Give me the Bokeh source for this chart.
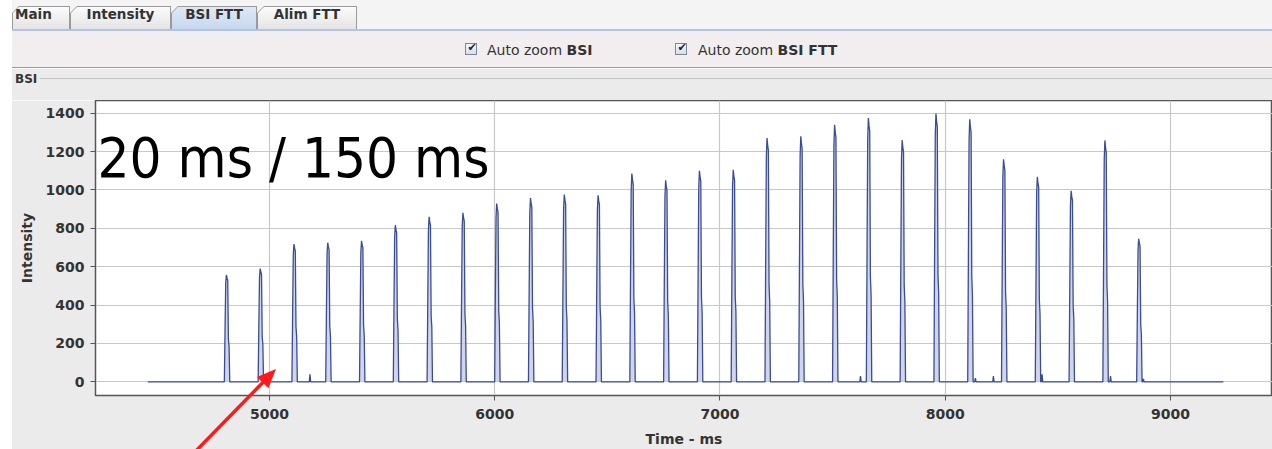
from bokeh.plotting import figure
from bokeh.models import Range1d, FixedTicker, Label, Div
from bokeh.layouts import column
from bokeh.embed import file_html
from bokeh.resources import INLINE

# ---------------- data ----------------
TAB_LABELS = ["Main", "Intensity", "BSI FTT", "Alim FTT"]
SELECTED_TAB = "BSI FTT"
CHECK_PLAIN = ["Auto zoom ", "Auto zoom "]
CHECK_BOLD = ["BSI", "BSI FTT"]
PANEL_TITLE = "BSI"
ANNOTATION = "20 ms / 150 ms"
X_LABEL = "Time - ms"
Y_LABEL = "Intensity"
X_TICKS = [5000, 6000, 7000, 8000, 9000]
Y_TICKS = [0, 200, 400, 600, 800, 1000, 1200, 1400]

PEAK_START_MS = [4800, 4950, 5100, 5250, 5400, 5550, 5700, 5850, 6000, 6150,
                 6300, 6450, 6600, 6750, 6900, 7050, 7200, 7350, 7500, 7650,
                 7800, 7950, 8100, 8250, 8400, 8550, 8700, 8850]
PEAK_HEIGHTS = [557, 590, 718, 725, 735, 817, 860, 881, 929, 958,
                976, 972, 1085, 1050, 1100, 1105, 1270, 1280, 1340, 1375,
                1260, 1398, 1368, 1160, 1068, 995, 1258, 745]
PULSE_OFFSET_MS = [0, 3, 6, 9, 12, 15, 18, 21, 24]
PULSE_FRACTION = [0, 0.48, 0.92, 1.0, 0.97, 0.95, 0.40, 0.33, 0]
BLIP_MS = [5180, 7624, 8134, 8214, 8430, 8734, 8880]
BLIP_HEIGHTS = [40, 30, 20, 30, 40, 30, 15]
BASELINE_START_MS = 4460
BASELINE_END_MS = 9235

ANNOTATION_POS = (4237, 1167)
X_RANGE = (4228, 9453)
Y_RANGE = (-71, 1466)

# red pointer arrow (page pixels, annotation overlay)
ARROW_TAIL_PX = (193, 454)
ARROW_TIP_PX = (276, 369)

# ---------------- series ----------------
events = []
for start, h in zip(PEAK_START_MS, PEAK_HEIGHTS):
    for off, f in zip(PULSE_OFFSET_MS, PULSE_FRACTION):
        events.append((start + off, h * f))
for t, h in zip(BLIP_MS, BLIP_HEIGHTS):
    events += [(t - 3, 0), (t, h), (t + 3, 0)]
events.sort(key=lambda e: e[0])
xs = [BASELINE_START_MS] + [e[0] for e in events] + [BASELINE_END_MS]
ys = [0] + [e[1] for e in events] + [0]

# ---------------- header (GUI chrome) ----------------
tab_geom = [(12, 58, 3), (70, 101, 0), (171, 86, 0), (257, 100, 0)]
tabs_html = ""
for (left, w, pad), lab in zip(tab_geom, TAB_LABELS):
    sel = lab == SELECTED_TAB
    bg = "linear-gradient(#dfe9f6,#c6d8ef)" if sel else "linear-gradient(#fbfbfb,#e4e4e4)"
    align = "left" if pad else "center"
    tabs_html += (
        f'<div style="position:absolute;left:{left}px;top:6px;width:{w}px;height:23px;'
        f'background:#9a9a9a;clip-path:polygon(7px 0,100% 0,100% 100%,0 100%,0 7px);">'
        f'<div style="position:absolute;left:1px;top:1px;right:1px;bottom:0px;background:{bg};'
        f'clip-path:polygon(6px 0,100% 0,100% 100%,0 100%,0 6px);"></div>'
        f'<div style="position:absolute;left:{pad}px;top:0;width:{w - pad}px;height:23px;line-height:23px;'
        f'text-align:{align};font:bold 13.5px \'DejaVu Sans\';color:#333;">{lab}</div></div>'
    )

checks_html = ""
for (bx, tx), plain, bold in zip([(465, 487), (675, 698)], CHECK_PLAIN, CHECK_BOLD):
    checks_html += (
        f'<div style="position:absolute;left:{bx}px;top:43px;width:12px;height:12px;'
        f'border:1px solid #7d8597;background:linear-gradient(#f4f7fb,#d7dfea);"></div>'
        f'<div style="position:absolute;left:{bx + 1}px;top:41px;width:12px;height:14px;'
        f'font:11px \'DejaVu Sans\';color:#223;text-align:center;line-height:14px;">&#10004;</div>'
        f'<div style="position:absolute;left:{tx}px;top:42px;height:18px;line-height:18px;white-space:nowrap;'
        f'font:14px \'DejaVu Sans\';color:#333;">{plain}<b>{bold}</b></div>'
    )

# arrow head geometry
import math
ax0, ay0 = ARROW_TAIL_PX
ax1, ay1 = ARROW_TIP_PX
ang = math.atan2(ay1 - ay0, ax1 - ax0)
head_len, head_half = 19, 8
bx_, by_ = ax1 - head_len * math.cos(ang), ay1 - head_len * math.sin(ang)
px_, py_ = -math.sin(ang) * head_half, math.cos(ang) * head_half
head_pts = f"{ax1},{ay1} {bx_ + px_:.1f},{by_ + py_:.1f} {bx_ - px_:.1f},{by_ - py_:.1f}"

overlay_svg = (
    '<svg style="position:absolute;left:0;top:0;pointer-events:none;overflow:visible;" '
    'width="1272" height="449" xmlns="http://www.w3.org/2000/svg">'
    '<rect x="0" y="100" width="12" height="349" fill="#ffffff"/>'
    f'<line x1="{ax0}" y1="{ay0}" x2="{bx_ + 2 * math.cos(ang):.1f}" y2="{by_ + 2 * math.sin(ang):.1f}" '
    'stroke="#ff1a1a" stroke-width="3.5"/>'
    f'<polygon points="{head_pts}" fill="#ff1a1a"/>'
    '</svg>'
)

header_html = (
    '<div style="position:relative;width:1272px;height:100px;overflow:visible;">'
    '<div style="position:absolute;left:0;top:0;width:1272px;height:100px;background:#f4f4f4;overflow:hidden;">'
    '<div style="position:absolute;left:0;top:0;width:12px;bottom:0;background:#ffffff;"></div>'
    '<div style="position:absolute;left:12px;top:29px;right:0;height:2px;background:#b3c3e3;"></div>'
    '<div style="position:absolute;left:12px;top:31px;right:0;height:36px;background:#f2eeef;"></div>'
    '<div style="position:absolute;left:12px;top:67px;right:0;height:1px;background:#9c9c9c;"></div>'
    '<div style="position:absolute;left:12px;top:68px;right:0;height:1px;background:#fafafa;"></div>'
    '<div style="position:absolute;left:12px;top:69px;right:0;bottom:0;background:#ebebeb;"></div>'
    '<div style="position:absolute;left:40px;top:78px;right:0;height:1px;background:#c4c4c4;"></div>'
    f'<div style="position:absolute;left:15px;top:72px;height:16px;line-height:16px;'
    f'font:bold 12px \'DejaVu Sans\';color:#333;">{PANEL_TITLE}</div>'
    + tabs_html + checks_html +
    '</div>' + overlay_svg + '</div>'
)
header = Div(text=header_html, width=1272, height=100, margin=(0, 0, 0, 0),
             styles={"overflow": "visible", "z-index": "10"})

# ---------------- plot ----------------
p = figure(width=1272, height=349, output_backend="svg", toolbar_location=None,
           x_range=Range1d(*X_RANGE), y_range=Range1d(*Y_RANGE),
           min_border_left=95, min_border_right=0, min_border_top=0, min_border_bottom=53,
           background_fill_color="white", border_fill_color="#ebebeb",
           outline_line_color="#555555", outline_line_width=1.5)
p.margin = (0, 0, 0, 0)

p.varea(x=xs, y1=0, y2=ys, fill_color="#c3cbe8", fill_alpha=0.8)
p.line(xs, ys, line_color="#3a4c96", line_width=1.3)

for ax, ticks in ((p.xaxis, X_TICKS), (p.yaxis, Y_TICKS)):
    ax.ticker = FixedTicker(ticks=ticks)
    ax.axis_line_color = "#555555"
    ax.major_tick_line_color = "#555555"
    ax.major_tick_in = 0
    ax.major_tick_out = 5
    ax.minor_tick_line_color = None
    ax.major_label_text_font = "DejaVu Sans"
    ax.major_label_text_font_style = "bold"
    ax.major_label_text_font_size = "14px"
    ax.major_label_text_color = "#333333"
    ax.axis_label_text_font = "DejaVu Sans"
    ax.axis_label_text_font_style = "bold"
    ax.axis_label_text_font_size = "14px"
    ax.axis_label_text_color = "#333333"

p.xaxis.axis_label = X_LABEL
p.yaxis.axis_label = Y_LABEL
p.xaxis.major_label_standoff = 8
p.yaxis.major_label_standoff = 6
p.xaxis.axis_label_standoff = 9
p.yaxis.axis_label_standoff = 8

p.xgrid.grid_line_color = "#c8c8c8"
p.ygrid.grid_line_color = "#c8c8c8"
p.xgrid.grid_line_width = 1.2
p.ygrid.grid_line_width = 1.2

p.add_layout(Label(x=ANNOTATION_POS[0], y=ANNOTATION_POS[1], text=ANNOTATION,
                   text_font="'DejaVu Sans Condensed', 'DejaVu Sans', sans-serif",
                   text_font_size="56px", text_color="black", text_baseline="middle"))

layout = column(header, p, spacing=0)
open("out.html", "w").write(file_html(layout, INLINE))
